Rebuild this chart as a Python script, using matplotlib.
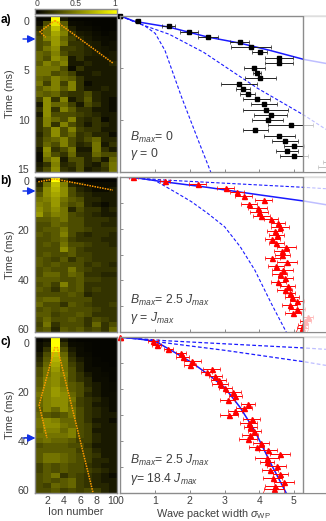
import numpy as np
import matplotlib
matplotlib.use("Agg")
import matplotlib.pyplot as plt
from matplotlib.colors import LinearSegmentedColormap

plt.rcParams['font.family'] = ['Liberation Sans', 'DejaVu Sans']
plt.rcParams['mathtext.fontset'] = 'custom'
plt.rcParams['mathtext.rm'] = 'Liberation Sans'
plt.rcParams['mathtext.it'] = 'Liberation Sans:italic'
plt.rcParams['mathtext.bf'] = 'Liberation Sans:bold'

heat_a = [
[.02,.03,1,.10,.02,.02,.02,.02,.02,.02],[.05,.30,.90,.35,.05,.04,.03,.02,.02,.02],
[.15,.45,.75,.45,.12,.05,.05,.03,.02,.02],[.25,.45,.65,.50,.20,.10,.08,.05,.03,.04],
[.30,.50,.60,.40,.25,.15,.10,.06,.05,.04],[.30,.35,.60,.45,.20,.20,.12,.10,.05,.06],
[.30,.45,.55,.25,.25,.20,.15,.10,.08,.06],[.40,.35,.50,.30,.20,.20,.15,.12,.08,.10],
[.40,.30,.55,.45,.10,.20,.10,.10,.10,.10],[.35,.50,.40,.50,.10,.10,.15,.10,.10,.15],
[.45,.45,.45,.30,.05,.20,.10,.10,.10,.10],[.45,.45,.30,.35,.25,.10,.10,.15,.10,.10],
[.40,.35,.50,.40,.35,.20,.10,.10,.10,.10],[.45,.25,.50,.25,.50,.20,.05,.10,.10,.10],
[.35,.45,.50,.35,.50,.20,.10,.10,.15,.10],[.40,.35,.40,.25,.20,.20,.30,.15,.10,.10],
[.25,.55,.20,.50,.10,.20,.35,.15,.10,.05],[.10,.55,.40,.40,.25,.10,.30,.20,.10,.05],
[.20,.55,.20,.50,.35,.20,.20,.10,.10,.05],[.10,.55,.30,.30,.30,.25,.20,.15,.10,.10],
[.20,.50,.40,.30,.50,.20,.15,.20,.05,.10],[.20,.50,.20,.50,.30,.20,.10,.20,.15,.10],
[.20,.30,.55,.30,.50,.25,.20,.20,.10,.10],[.15,.30,.55,.30,.40,.20,.25,.15,.15,.05],
[.20,.35,.40,.50,.30,.20,.30,.40,.15,.15],[.20,.40,.30,.50,.30,.15,.20,.45,.10,.20],
[.10,.55,.20,.30,.45,.10,.10,.45,.20,.10],[.05,.50,.30,.20,.40,.15,.15,.40,.30,.30],
[.05,.40,.55,.10,.30,.30,.15,.25,.10,.40],[.10,.20,.50,.15,.20,.30,.15,.10,.25,.45],
[.15,.30,.55,.20,.15,.30,.10,.15,.20,.45]]
heat_b = [
[.02,.15,1,.15,.03,.02,.02,.02,.02,.02],[.15,.45,.75,.50,.15,.10,.05,.05,.05,.05],
[.25,.55,.70,.55,.30,.15,.10,.05,.05,.10],[.35,.55,.65,.55,.30,.20,.15,.10,.10,.10],
[.45,.50,.60,.45,.35,.30,.15,.15,.10,.10],[.50,.45,.60,.40,.30,.35,.15,.10,.05,.10],
[.55,.45,.55,.45,.15,.30,.20,.20,.10,.15],[.60,.40,.50,.45,.30,.25,.20,.15,.10,.10],
[.35,.35,.40,.45,.30,.30,.20,.20,.20,.15],[.30,.30,.40,.35,.30,.30,.20,.20,.15,.15],
[.30,.35,.35,.45,.30,.30,.25,.20,.20,.20],[.35,.30,.35,.50,.30,.20,.15,.20,.20,.15],
[.30,.30,.35,.40,.25,.20,.20,.20,.15,.15],[.30,.35,.30,.45,.30,.30,.25,.20,.20,.15],
[.30,.30,.30,.55,.35,.25,.20,.20,.20,.20],[.30,.35,.30,.30,.35,.25,.25,.20,.20,.20],
[.35,.30,.25,.35,.20,.30,.25,.20,.20,.20],[.35,.30,.35,.30,.30,.30,.20,.25,.20,.15],
[.30,.35,.30,.30,.45,.30,.25,.20,.20,.20],[.30,.40,.40,.30,.40,.35,.20,.20,.15,.15],
[.35,.35,.35,.30,.30,.35,.25,.25,.20,.20],[.30,.35,.25,.50,.30,.35,.20,.20,.20,.20],
[.35,.30,.20,.35,.30,.35,.20,.25,.20,.20],[.30,.30,.30,.30,.35,.30,.15,.20,.20,.20],
[.35,.40,.40,.30,.30,.30,.30,.20,.20,.20],[.40,.30,.30,.20,.35,.30,.25,.20,.20,.25],
[.30,.35,.30,.35,.30,.30,.30,.25,.20,.20],[.35,.35,.25,.30,.30,.35,.30,.20,.20,.20],
[.30,.40,.30,.30,.35,.30,.20,.30,.25,.20],[.25,.45,.20,.30,.30,.30,.20,.40,.20,.30],
[.30,.35,.15,.35,.30,.35,.25,.30,.20,.40]]
heat_c = [
[.02,.05,1,.10,.03,.02,.02,.02,.02,.02],[.05,.10,1,.20,.05,.04,.03,.02,.02,.02],
[.05,.20,.95,.30,.10,.05,.03,.02,.02,.02],[.10,.30,.75,.40,.15,.05,.04,.02,.02,.02],
[.15,.35,.70,.45,.20,.10,.05,.03,.02,.02],[.20,.40,.65,.45,.25,.15,.05,.03,.03,.02],
[.30,.45,.60,.45,.30,.15,.05,.05,.03,.03],[.30,.45,.55,.50,.30,.20,.10,.05,.04,.03],
[.35,.50,.55,.45,.30,.20,.15,.05,.05,.03],[.35,.50,.55,.45,.35,.30,.15,.10,.05,.04],
[.40,.50,.60,.50,.35,.30,.20,.10,.05,.04],[.45,.50,.60,.55,.40,.30,.15,.10,.05,.05],
[.40,.50,.55,.55,.45,.25,.20,.15,.08,.05],[.40,.50,.55,.55,.40,.25,.20,.10,.08,.05],
[.35,.50,.40,.55,.45,.30,.20,.15,.10,.05],[.40,.35,.30,.35,.45,.30,.20,.15,.10,.10],
[.45,.55,.50,.40,.40,.30,.20,.10,.10,.05],[.45,.55,.55,.45,.40,.30,.25,.15,.10,.10],
[.40,.50,.50,.40,.50,.30,.25,.10,.10,.10],[.45,.45,.45,.45,.50,.30,.25,.15,.10,.10],
[.40,.45,.40,.40,.35,.25,.25,.15,.10,.10],[.30,.35,.35,.35,.30,.30,.20,.10,.10,.10],
[.35,.35,.35,.35,.35,.25,.25,.15,.10,.10],[.35,.45,.45,.40,.35,.30,.25,.20,.10,.10],
[.35,.45,.45,.40,.35,.30,.25,.15,.15,.10],[.25,.35,.30,.35,.30,.30,.20,.15,.10,.10],
[.25,.35,.30,.35,.30,.30,.25,.20,.15,.10],[.30,.35,.45,.20,.30,.25,.20,.15,.10,.05],
[.30,.35,.30,.35,.40,.25,.20,.15,.10,.10],[.30,.25,.40,.35,.40,.25,.20,.15,.15,.10],
[.30,.30,.35,.25,.30,.25,.30,.25,.15,.10]]

# Wave packet widths (ion-number units), error half-widths, times (ms)
t_a = [0,.5,1,1.5,2,2.5,3,3.5,4,4.5,5,5.5,6,6.5,7,7.5,8,8.5,9,9.5,10,10.5,11,11.5,12,12.5,13,13.5,14,14.5]
w_a = [0,.49,1.39,1.97,2.52,3.43,3.77,4.01,4.56,4.57,3.86,3.93,4.03,3.42,3.53,3.66,3.92,4.14,4.18,4.33,4.24,4.90,3.88,4.58,4.74,5.00,4.80,4.99,6.20,6.10]
e_a = [0,.08,.19,.26,.29,.26,.58,.21,.40,.40,.30,.12,.45,.52,.19,.21,.40,.38,.64,.48,.44,.65,.36,.45,.38,.29,.31,.40,.35,.41]

t_b = [0,1.5,3,4.5,6,7.5,9,10.5,12,13.5,15,16.5,18,19.5,21,22.5,24,25.5,27,28.5,30,31.5,33,34.5,36,37.5,39,40.5,42,43.5,45,46.5,48,49.5,51,52.5,54,55.5,57,58.5,60]
w_b = [.37,1.28,2.22,3.03,3.35,3.55,4.13,3.70,3.95,3.99,4.06,4.34,4.55,4.60,4.44,4.50,4.38,4.49,4.78,4.64,4.66,4.38,4.80,4.48,4.68,4.59,4.75,4.55,4.82,4.73,4.89,4.95,5.09,4.88,5.09,4.97,5.40,5.33,5.26,5.24,5.22]
e_b = [.12,.15,.25,.25,.20,.25,.25,.22,.27,.27,.25,.20,.20,.25,.22,.22,.22,.22,.27,.22,.22,.22,.30,.22,.30,.22,.22,.22,.22,.22,.14,.20,.20,.22,.22,.22,.15,.15,.15,.15,.15]

t_c = t_b
w_c = [0,.94,1.04,1.38,1.74,1.79,2.07,2.00,2.63,2.48,2.73,2.83,2.87,3.02,3.24,3.31,3.09,3.68,3.56,3.30,3.13,3.78,3.69,3.74,3.85,3.73,3.68,4.05,3.92,4.25,4.59,4.22,4.22,4.50,4.31,4.61,4.39,4.72,4.44,4.42,4.41]
e_c = [0,.14,.14,.14,.14,.19,.24,.17,.24,.17,.19,.21,.24,.19,.24,.19,.21,.21,.24,.21,.26,.24,.24,.19,.19,.24,.26,.24,.21,.27,.29,.34,.21,.27,.24,.21,.27,.29,.27,.29,.29]

# Theory curves (width, time)
a_solid_x = [0,.41,1.39,2.52,3.43,4.3,5.29,5.92]
a_solid_t = [0,.52,1.06,2.03,2.6,3.3,4.18,4.56]
a_mid_x = [0,.4,.8,1.4,2.4,3.96,5.29,5.92]
a_mid_t = [0,.55,1.05,1.75,3.5,6.97,9.54,10.9]
a_low_x = [0,.4,.7,1.0,1.28,1.76,2.24,2.6]
a_low_t = [0,.55,.95,1.67,3.3,7.8,11.95,15]
b_solid_x = [0,.6,1.08,2.5,4,5.29,5.92]
b_solid_t = [0,.7,1.67,4.1,7.0,9.4,10.8]
b_up_x = [0,.6,1.28,3,5.29,5.92]
b_up_t = [0,.6,1.3,2.5,4.1,4.63]
curve_x = [0,.5,1,1.56,2.04,2.5,3,3.45,3.87,4.35,4.78]
curve_t = [0,.6,1.5,5.8,9.6,14,19.3,27,36,49,60]
c_low_x = [0,.6,1.28,3,5.29,5.92]
c_low_t = [0,.8,2.1,5.0,9.4,10.8]

ion_ticks = [2,4,6,8,10]
ion_labels = ['2','4','6','8','10']
width_ticks = [0,1,2,3,4,5]
time_ticks_a = [0,5,10,15]
time_ticks_bc = [0,20,40,60]
right_ticks_a = [5,10,15]
right_ticks_bc = [10,20,30,40,50,60]
cbar_ticks = [0,.5,1]
cbar_labels = ['0','0.5','1']

FW, FH = 326, 521
GRAY = '#8c8c8c'
TXT = '#404040'
BLUE = '#1a1aff'
RED = '#ff0000'
cmap = LinearSegmentedColormap.from_list('by', ['#000000', '#ffff00'])

fig = plt.figure(figsize=(FW/100, FH/100), dpi=100)

def px_axes(l, t, r, b):
    return fig.add_axes([l/FW, 1-b/FH, (r-l)/FW, (b-t)/FH])

def style(ax):
    for s in ax.spines.values():
        s.set_color(GRAY); s.set_linewidth(1.0)

def heat(top, bot, t0px, tscale, data, ticks):
    ax = px_axes(35, top, 117, bot)
    ylim = ((bot-t0px)/tscale, (top-t0px)/tscale)
    ax.imshow(np.array(data), cmap=cmap, vmin=0, vmax=1, aspect='auto',
              extent=(.5, 10.5, ylim[0], ylim[1]), interpolation='nearest')
    ax.set_xlim(.5, 10.5); ax.set_ylim(*ylim)
    ax.set_yticks(ticks); ax.set_xticks([])
    ax.tick_params(length=0, labelsize=7.6, labelcolor=TXT, pad=4)
    style(ax)
    ax.set_ylabel('Time (ms)', fontsize=7.8, color=TXT, labelpad=2)
    return ax

ORANGE = '#ff9a00'
def dots(ax, x, y):
    ax.plot(x, y, color=ORANGE, lw=1.1, ls=(0, (1, .7)))

def right(top, bot, ymax, yticks):
    ax = px_axes(120.5, top, 326, bot)
    ax.set_xlim(0, 205.5/34.7); ax.set_ylim(ymax, 0)
    ax.set_xticks(width_ticks); ax.set_yticks(yticks)
    ax.set_xticklabels([]); ax.set_yticklabels([])
    ax.tick_params(direction='in', length=2, width=.7, color=GRAY, labelsize=7.6, labelcolor=TXT, pad=2)
    style(ax); ax.spines['right'].set_visible(False)
    return ax

def finish(ax):
    ax.axvspan(5.27, 6.0, color='white', alpha=.72, lw=0, zorder=8)
    ax.axvline(5.27, color=GRAY, lw=1.0, zorder=9)

def arrow(y):
    fig.add_artist(matplotlib.patches.FancyArrowPatch(
        (23/FW, 1-y/FH), (35.5/FW, 1-y/FH), transform=fig.transFigure,
        arrowstyle='-|>,head_length=4.5,head_width=2.2', color='#1030e8', lw=1.0,
        shrinkA=0, shrinkB=0, mutation_scale=1))

def label(y1, y2, s1, s2):
    fig.text(130/FW, 1-y1/FH, s1, fontsize=8.8, color=TXT, va='center')
    fig.text(130/FW, 1-y2/FH, s2, fontsize=8.8, color=TXT, va='center')

# Colourbar
cax = px_axes(35, 9, 117, 14)
cax.imshow(np.array([np.linspace(0, 1, 64)]), cmap=cmap, aspect='auto', extent=(0, 1, 0, 1))
cax.set_yticks([]); cax.set_xticks(cbar_ticks); cax.set_xticklabels(cbar_labels)
cax.xaxis.tick_top()
cax.tick_params(length=0, labelsize=6.2, labelcolor=TXT, pad=1)
cax.get_xticklabels()[0].set_ha('left'); cax.get_xticklabels()[2].set_ha('right')
style(cax)

# a)
ax = heat(16, 172, 20.5, 9.9, heat_a, time_ticks_a)
dots(ax, [2.94, 10], [0, 4.3]); dots(ax, [2.94, 1.1, 1.8], [0, 1.13, 1.7])
ax = right(16, 172, 15, right_ticks_a)
ax.plot(a_low_x, a_low_t, color=BLUE, lw=.8, ls=(0, (3, 1.8)))
ax.plot(a_mid_x, a_mid_t, color=BLUE, lw=.8, ls=(0, (3, 1.8)))
ax.plot(a_solid_x, a_solid_t, color=BLUE, lw=1.1)
ax.errorbar(w_a, t_a, xerr=e_a, fmt='s', ms=2.5, color='k', ecolor='#222222', elinewidth=.7, capsize=1.2, capthick=.5, clip_on=True)
ax.plot(w_a[0], t_a[0], 's', ms=2.5, color='k', clip_on=False)
finish(ax)

# b)
ax = heat(177, 332, 181, 2.47, heat_b, time_ticks_bc)
dots(ax, [.9, 2.94, 10], [.3, -.8, 3.7])
ax = right(176.7, 332.3, 60, right_ticks_bc)
ax.plot(curve_x, curve_t, color=BLUE, lw=.8, ls=(0, (3, 1.8)))
ax.plot(b_up_x, b_up_t, color=BLUE, lw=.8, ls=(0, (3, 1.8)))
ax.plot(b_solid_x, b_solid_t, color=BLUE, lw=1.1)
ax.errorbar(w_b, t_b, xerr=e_b, fmt='^', ms=3.6, color=RED, ecolor=RED, elinewidth=.7, capsize=1.2, capthick=.5)
finish(ax)

# c)
ax = heat(337, 493, 343, 2.45, heat_c, time_ticks_bc)
dots(ax, [2.94, 1, 1.96], [1.6, 25.3, 38.8]); dots(ax, [3.2, 7.57], [1.6, 61])
ax.set_xticks(ion_ticks); ax.set_xticklabels(ion_labels)
ax.tick_params(axis='x', pad=2)
ax.set_xlabel('Ion number', fontsize=7.8, color=TXT, labelpad=1)
ax = right(337.3, 493.3, 60, right_ticks_bc)
ax.plot(c_low_x, c_low_t, color=BLUE, lw=.9, ls=(0, (3, 1.8)))
ax.plot(b_up_x, b_up_t, color=BLUE, lw=.9, ls=(0, (3, 1.8)))
ax.plot(curve_x, curve_t, color=BLUE, lw=1.1)
ax.errorbar(w_c, t_c, xerr=e_c, fmt='^', ms=3.6, color=RED, ecolor=RED, elinewidth=.7, capsize=1.2, capthick=.5)
ax.plot(0, 0, '^', ms=3.6, color=RED, clip_on=False)
ax.set_xticklabels([str(v) for v in width_ticks])
ax.set_xlabel(r'Wave packet width $\sigma_{\mathrm{WP}}$', fontsize=7.8, color=TXT, labelpad=0)
ax.xaxis.set_label_coords((213-120.5)/205.5, -13.5/156)
finish(ax)

for y in (39, 191, 438):
    arrow(y)

for y, s in ((20, 'a)'), (181, 'b)'), (342, 'c)')):
    fig.text(0.5/FW, 1-y/FH, s, fontsize=8.6, fontweight='bold', color='k', va='center')

label(137, 154, r'$B_{max}$= 0', r'$\gamma$ = 0')
label(300, 318, r'$B_{max}$= 2.5 $J_{max}$', r'$\gamma$ = $J_{max}$')
label(460, 479, r'$B_{max}$= 2.5 $J_{max}$', r'$\gamma$= 18.4 $J_{max}$')

fig.savefig('out.png', dpi=100)
